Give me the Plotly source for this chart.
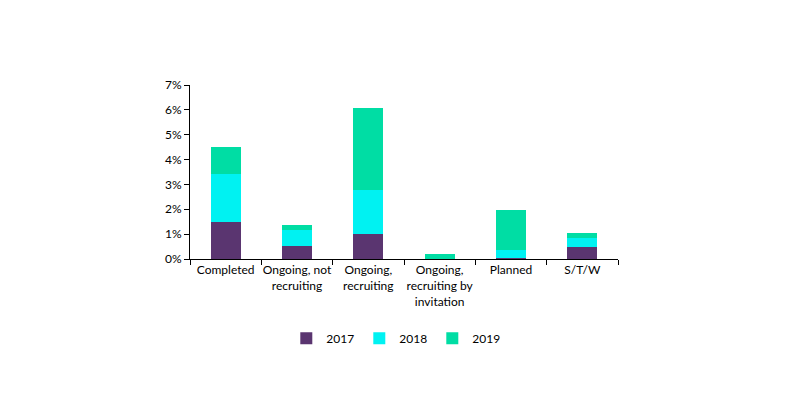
import plotly.graph_objects as go

categories = ["Completed", "Ongoing, not<br>recruiting", "Ongoing,<br>recruiting",
              "Ongoing,<br>recruiting by<br>invitation", "Planned", "S/T/W"]
v2017 = [1.47, 0.53, 1.02, 0.0, 0.06, 0.49]
v2018 = [1.96, 0.65, 1.76, 0.0, 0.29, 0.36]
v2019 = [1.08, 0.20, 3.29, 0.21, 1.63, 0.21]
series_names = ["2017", "2018", "2019"]
colors = ["#5A3570", "#00F2F2", "#00DDA4"]

fig = go.Figure()
for name, vals, col in zip(series_names, [v2017, v2018, v2019], colors):
    fig.add_trace(go.Bar(x=categories, y=[v / 100 for v in vals], name=name,
                         marker=dict(color=col, line=dict(width=0)), width=0.42))

fig.update_layout(
    barmode="stack",
    width=800, height=400,
    margin=dict(l=190, r=182, t=85, b=141, autoexpand=False),
    plot_bgcolor="white", paper_bgcolor="white",
    font=dict(family="Lato, Open Sans, sans-serif", size=12, color="#000000"),
    legend=dict(orientation="h", x=0.225, xanchor="left", y=-0.455, yanchor="middle",
                font=dict(size=12), itemwidth=30, entrywidth=28, entrywidthmode="pixels",
                traceorder="normal", bgcolor="rgba(0,0,0,0)"),
    xaxis=dict(showline=True, linecolor="#000000", linewidth=1, ticks="outside",
               tickson="boundaries", ticklen=5, tickcolor="#000000", showgrid=False,
               tickangle=0, automargin=False),
    yaxis=dict(range=[0, 0.07], dtick=0.01, tickformat=".0%", showline=True,
               linecolor="#000000", linewidth=1, ticks="outside", ticklen=5,
               tickcolor="#000000", showgrid=False, zeroline=False, automargin=False),
)

fig.write_html("out.html", config={"displayModeBar": False},
               post_script="document.body.style.margin='0';")
